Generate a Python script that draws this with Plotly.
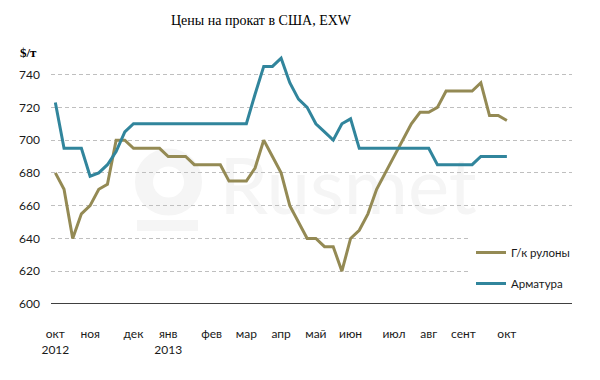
import plotly.graph_objects as go

# weekly observations, Oct 2012 - Oct 2013
week_index = list(range(53))
hrc = [680, 670, 640, 655, 660, 670, 673, 700, 700, 695,
       695, 695, 695, 690, 690, 690, 685, 685, 685, 685,
       675, 675, 675, 683, 700, 690, 680, 660, 650, 640,
       640, 635, 635, 620, 640, 645, 655, 670, 680, 690,
       700, 710, 717, 717, 720, 730, 730, 730, 730, 735,
       715, 715, 712]
rebar = [723, 695, 695, 695, 678, 680, 685, 693, 705, 710,
         710, 710, 710, 710, 710, 710, 710, 710, 710, 710,
         710, 710, 710, 728, 745, 745, 750, 735, 725, 720,
         710, 705, 700, 710, 713, 695, 695, 695, 695, 695,
         695, 695, 695, 695, 685, 685, 685, 685, 685, 690,
         690, 690, 690]

month_pos = [0, 4, 9, 13, 18, 22, 26, 30, 34, 39, 43, 47, 52]
month_labels = ["окт<br>2012", "ноя", "дек", "янв<br>2013", "фев", "мар", "апр",
                "май", "июн", "июл", "авг", "сент", "окт"]
series_names = ["Г/к рулоны", "Арматура"]

c_hrc = "#948A54"
c_rebar = "#31859C"
wm = "#F5F5F5"

fig = go.Figure()
fig.add_trace(go.Scatter(x=week_index, y=hrc, mode="lines", name=series_names[0],
                         legendgroup="a", line=dict(color=c_hrc, width=3)))
fig.add_trace(go.Scatter(x=week_index, y=rebar, mode="lines", name=series_names[1],
                         legendgroup="b", line=dict(color=c_rebar, width=3)))

tick_font = dict(family="Lato", size=12, color="#1a1a1a")


def px_x(x):  # reference pixel -> paper x
    return (x - 51) / 521


def px_y(y):  # reference pixel -> paper y
    return (304 - y) / 254


# the page body adds an 8px offset, so the figure is 8px smaller
W, H = 592, 372
fig.update_layout(
    width=W, height=H,
    margin=dict(l=43, r=28, t=42, b=76),
    plot_bgcolor="white", paper_bgcolor="white",
    title=dict(text="Цены на прокат в США, EXW", x=(261 - 8) / W, xanchor="center",
               y=1 - 12 / H, yanchor="middle",
               font=dict(family="Liberation Serif", size=14, color="#000")),
    xaxis=dict(range=[-0.5, 59.5], tickmode="array", tickvals=month_pos,
               ticktext=month_labels, showgrid=False, zeroline=False,
               showline=False, ticks="", tickfont=tick_font,
               ticklabelstandoff=21, automargin=False, fixedrange=True),
    yaxis=dict(range=[600, 755], dtick=20, tick0=600, showgrid=True,
               gridcolor="#BFBFBF", griddash="4px,3px", gridwidth=1,
               zeroline=False, showline=False, ticks="", tickfont=tick_font,
               ticklabelstandoff=10, automargin=False),
    legend=dict(x=px_x(471), xanchor="left", y=px_y(238),
                yanchor="top", bgcolor="white", borderwidth=0,
                font=dict(family="Lato", size=11.5, color="#1a1a1a"),
                traceorder="grouped", tracegroupgap=12, itemwidth=30),
    annotations=[dict(text="<b>$/т</b>", xref="paper", yref="paper",
                      x=px_x(18), y=px_y(52), xanchor="left",
                      yanchor="middle", showarrow=False,
                      font=dict(family="Liberation Serif", size=13, color="#000"))],
    shapes=[
        # faint watermark
        dict(type="circle", xref="paper", yref="paper", layer="below",
             x0=px_x(144), x1=px_x(193), y0=px_y(157.5), y1=px_y(206.5),
             line=dict(color=wm, width=18)),
        dict(type="rect", xref="paper", yref="paper", layer="below",
             x0=px_x(137), x1=px_x(198), y0=px_y(220), y1=px_y(231),
             line=dict(width=0), fillcolor=wm),
        dict(type="rect", xref="paper", yref="paper", layer="below",
             x0=px_x(223), x1=px_x(473), y0=px_y(140), y1=px_y(225),
             line=dict(width=0), fillcolor="rgba(0,0,0,0)",
             label=dict(text="Rusmet", textposition="middle center",
                        font=dict(family="Lato", size=78, color=wm))),
        # baseline
        dict(type="line", xref="paper", yref="y", x0=0, x1=1, y0=600, y1=600,
             line=dict(color="#000", width=1.5)),
    ],
)

fig.write_html("out.html")
